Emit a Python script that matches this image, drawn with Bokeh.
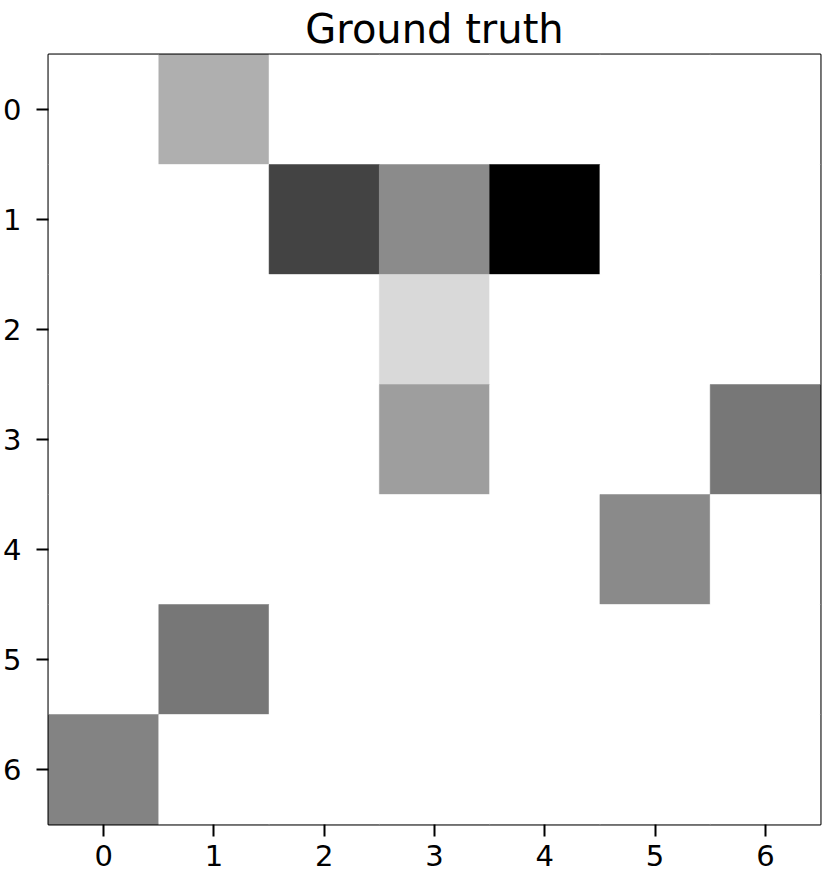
from bokeh.plotting import figure
from bokeh.models import Range1d, FixedTicker, ColumnDataSource, LinearColorMapper
from bokeh.palettes import Greys256
from bokeh.embed import file_html
from bokeh.resources import INLINE

# Matrix values (row, col) -> intensity (0 = white, 1 = black)
n = 7
rows = [0, 1, 1, 1, 2, 3, 3, 4, 5, 6]
cols = [1, 2, 3, 4, 3, 3, 6, 5, 1, 0]
vals = [0.314, 0.737, 0.455, 1.0, 0.149, 0.380, 0.533, 0.459, 0.533, 0.486]
tick_labels = ["0", "1", "2", "3", "4", "5", "6"]

grid = {(r, c): 0.0 for r in range(n) for c in range(n)}
for r, c, v in zip(rows, cols, vals):
    grid[(r, c)] = v
xs = [c for (r, c) in grid]
ys = [r for (r, c) in grid]
vs = [grid[k] for k in grid]
src = ColumnDataSource(dict(x=xs, y=ys, v=vs))

mapper = LinearColorMapper(palette=list(reversed(Greys256)), low=0.0, high=1.0)

p = figure(output_backend="svg", toolbar_location=None,
           x_range=Range1d(-0.5, 6.5), y_range=Range1d(6.5, -0.5),
           frame_width=772, frame_height=770,
           title="Ground truth", min_border_right=2, min_border_top=0,
           min_border_left=0, min_border_bottom=56)

p.rect(x="x", y="y", width=1, height=1, source=src,
       fill_color={"field": "v", "transform": mapper},
       line_color={"field": "v", "transform": mapper}, line_width=0.5)

p.title.text_font = "DejaVu Sans"
p.title.text_font_size = "40px"
p.title.text_font_style = "normal"
p.title.text_color = "black"
p.title.align = "center"
p.title.standoff = 6

p.xgrid.visible = False
p.ygrid.visible = False
p.outline_line_color = "black"
p.outline_line_width = 2
p.outline_line_alpha = 1.0
p.background_fill_color = "white"
p.border_fill_color = "white"

ticker = FixedTicker(ticks=list(range(n)))
for ax in (p.xaxis[0], p.yaxis[0]):
    ax.ticker = ticker
    ax.major_label_overrides = {i: t for i, t in enumerate(tick_labels)}
    ax.axis_line_color = None
    ax.major_tick_in = 0
    ax.major_tick_out = 12
    ax.major_tick_line_width = 2
    ax.major_tick_line_color = "black"
    ax.minor_tick_line_color = None
    ax.major_label_text_font = "DejaVu Sans"
    ax.major_label_text_font_size = "29px"
    ax.major_label_text_color = "black"
p.xaxis[0].major_label_standoff = 8
p.yaxis[0].major_label_standoff = 15

open("out.html", "w").write(file_html(p, INLINE))
